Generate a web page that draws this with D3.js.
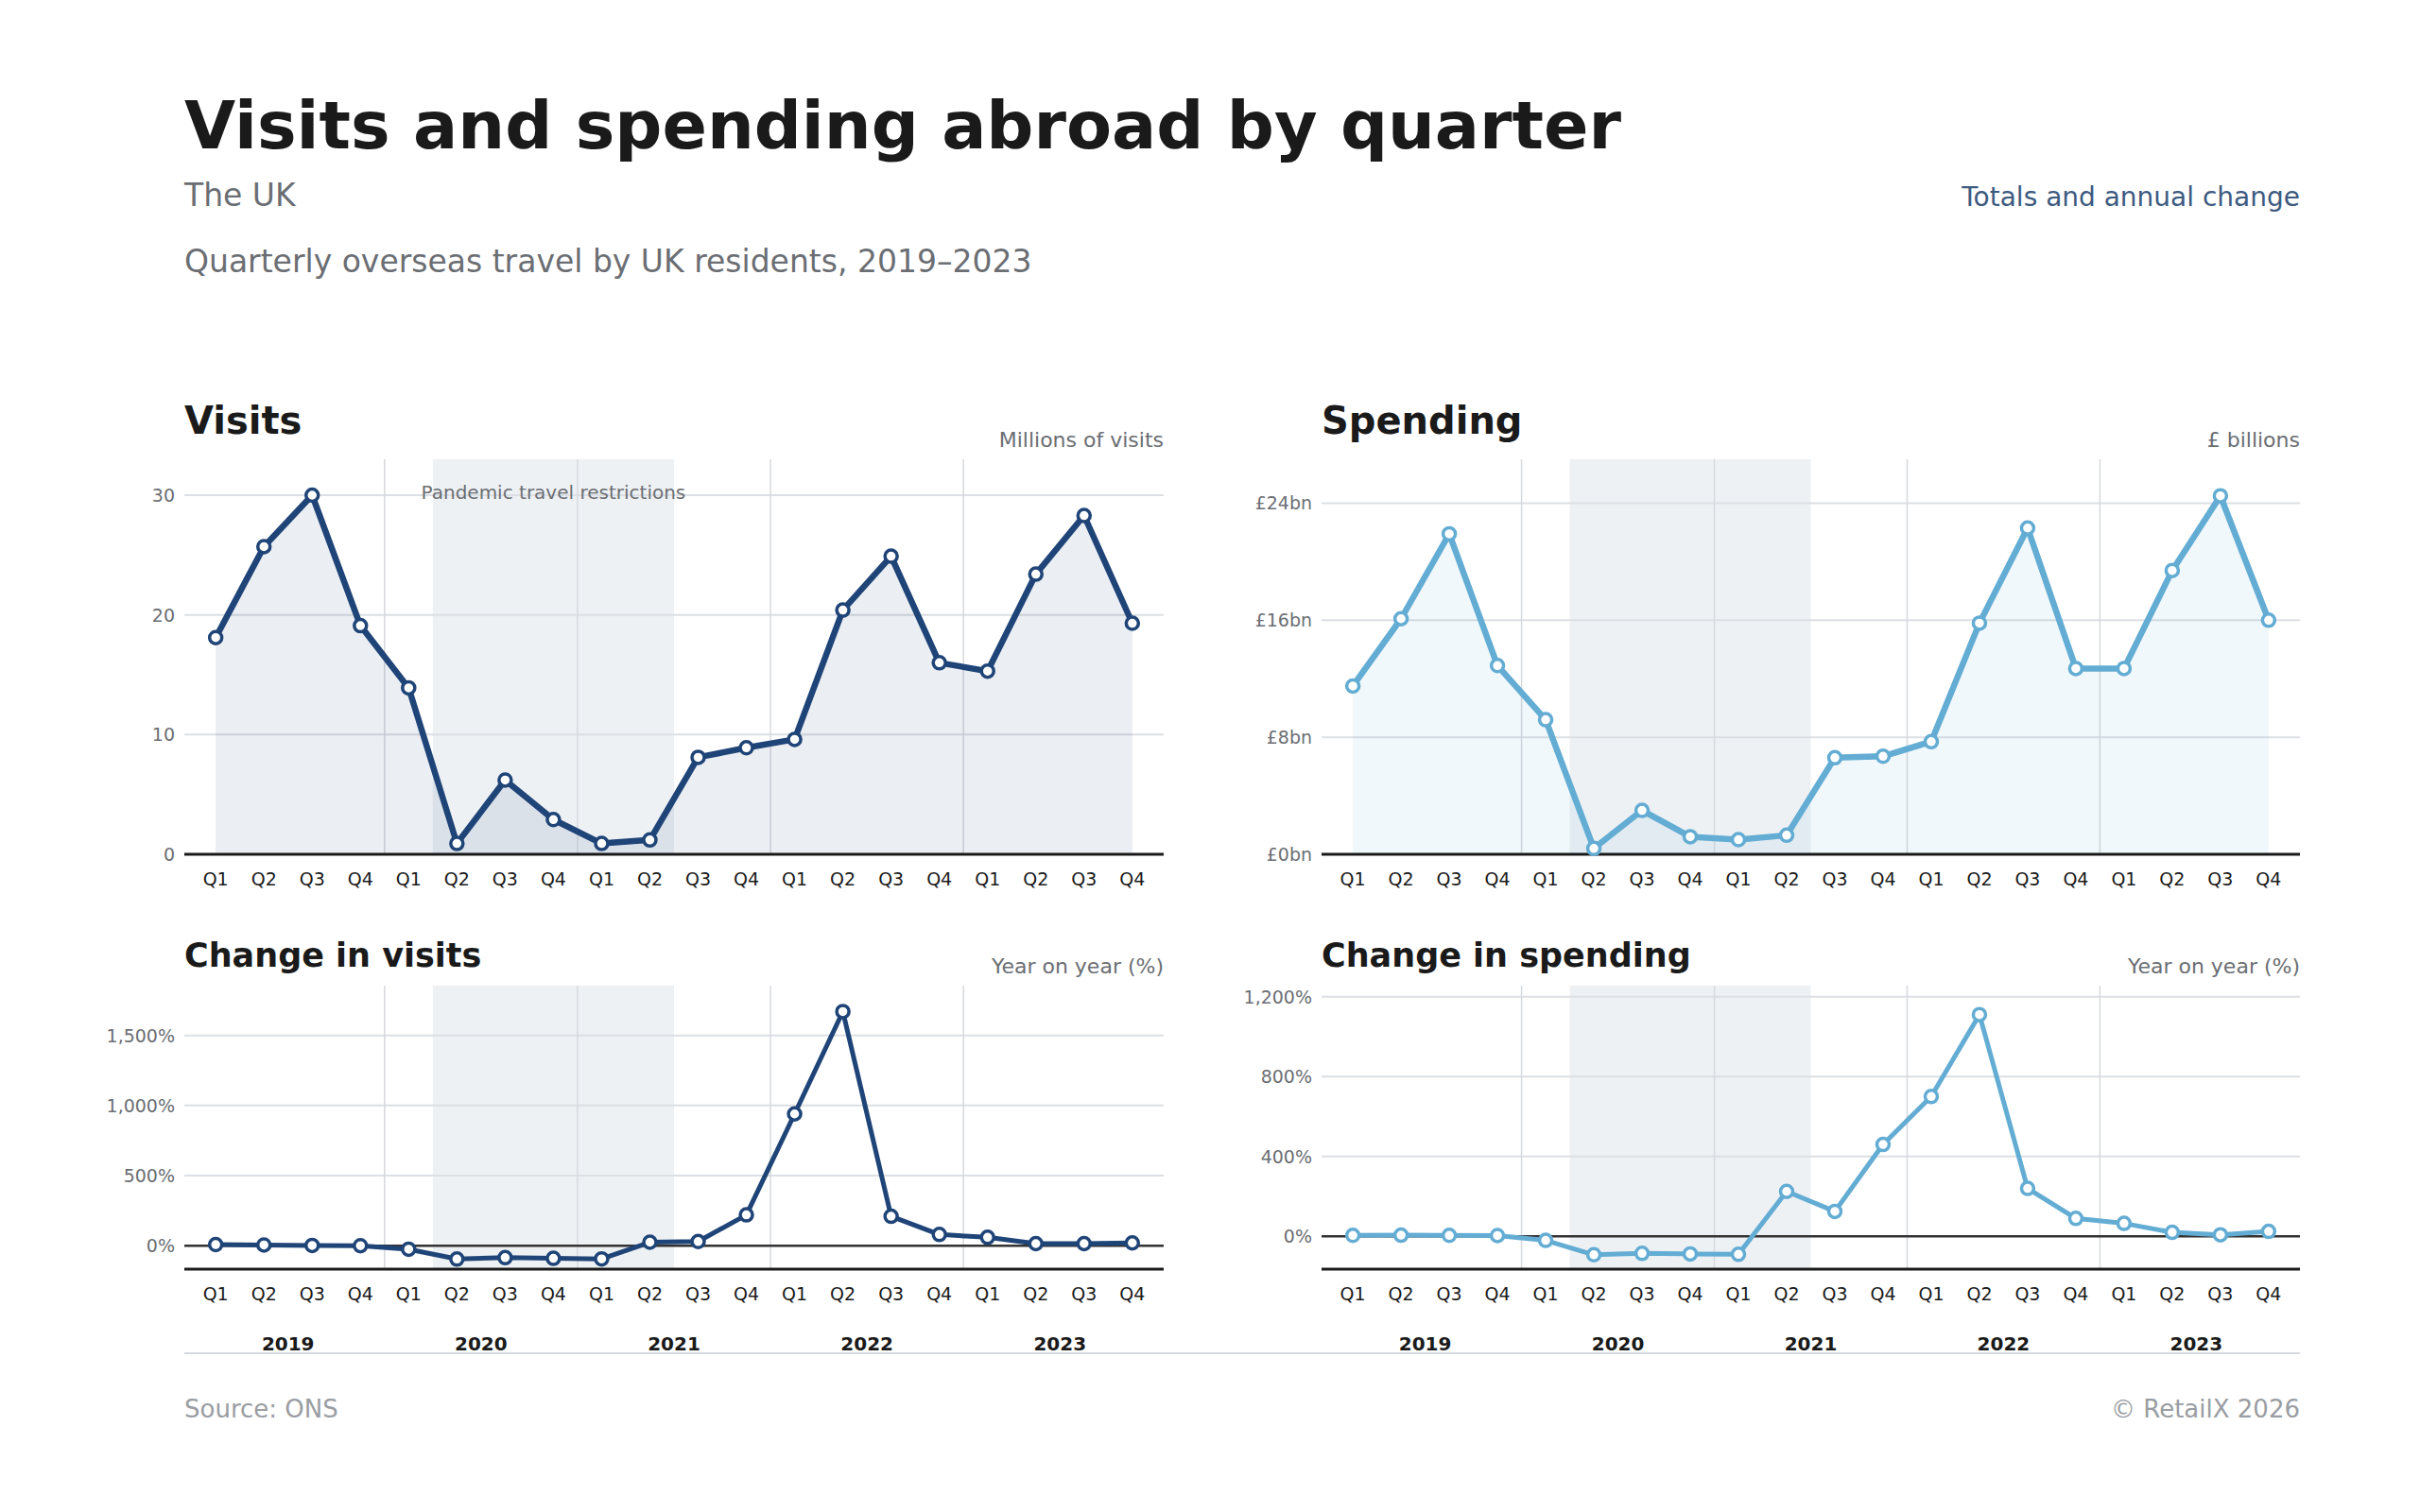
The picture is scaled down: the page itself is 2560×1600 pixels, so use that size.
<!DOCTYPE html>
<html><head><meta charset="utf-8">
<script src="https://cdn.jsdelivr.net/npm/d3@7"></script>
<style>body{margin:0;background:#fff;font-family:"DejaVu Sans",sans-serif}</style>
</head><body>
<script>
var years = ['2019', '2020', '2021', '2022', '2023'];
var quarters = ['Q1', 'Q2', 'Q3', 'Q4'];
var visits = [18.1, 25.7, 30, 19.1, 13.9, 0.9, 6.2, 2.9, 0.9, 1.2, 8.1, 8.9, 9.6, 20.4, 24.9, 16.0, 15.3, 23.4, 28.3, 19.3];
var spending = [11.5, 16.1, 21.9, 12.9, 9.2, 0.4, 3.0, 1.2, 1.0, 1.3, 6.6, 6.7, 7.7, 15.8, 22.3, 12.7, 12.7, 19.4, 24.5, 16.0];
var visitsChange = [8, 5, 2, 0, -25, -95, -85, -90, -94, 25, 30, 220, 940, 1670, 210, 80, 60, 15, 15, 20];
var spendingChange = [5, 6, 5, 4, -20, -92, -85, -88, -90, 225, 125, 460, 700, 1110, 240, 90, 65, 20, 8, 25];
var keys = [];
years.forEach(function (y) { quarters.forEach(function (q) { keys.push(y + q); }); });

var W = 2560, H = 1600;
var svg = d3.select('body').append('svg').attr('width', W).attr('height', H);

svg.append('text').attr('x', 195).attr('y', 157).attr('font-size', 70).attr('font-weight', 'bold')
    .attr('fill', '#1a1a1a').text('Visits and spending abroad by quarter');
svg.append('text').attr('x', 195).attr('y', 218).attr('font-size', 33).attr('fill', '#6b6e73').text('The UK');
svg.append('text').attr('x', 195).attr('y', 288).attr('font-size', 33).attr('fill', '#6b6e73')
    .text('Quarterly overseas travel by UK residents, 2019\u20132023');
svg.append('text').attr('x', 2433).attr('y', 218).attr('text-anchor', 'end').attr('font-size', 28)
    .attr('fill', '#3d5a80').text('Totals and annual change');

function panel(o) {
    var x = d3.scalePoint().domain(keys).range([o.x0, o.x1]).padding(0.65);
    var y = d3.scaleLinear().domain(o.domain).range([o.y1, o.y0]);
    var g = svg.append('g');
    var step = x.step();
    // pandemic shading Q2 2020 - Q2 2021
    g.append('rect').attr('x', x('2020Q2') - step / 2).attr('y', o.y0)
        .attr('width', x('2021Q2') - x('2020Q2') + step).attr('height', o.y1 - o.y0).attr('fill', '#eef1f4');
    // horizontal grid
    o.ticks.forEach(function (t) {
        g.append('line').attr('x1', o.x0).attr('x2', o.x1).attr('y1', y(t)).attr('y2', y(t))
            .attr('stroke', '#dcdfe3').attr('stroke-width', 2);
        g.append('text').attr('x', o.x0 - 10).attr('y', y(t) + 7).attr('text-anchor', 'end')
            .attr('font-size', 19).attr('fill', '#6b6e73').text(o.fmt(t));
    });
    // year boundaries
    years.slice(1).forEach(function (yr) {
        var xv = x(yr + 'Q1') - step / 2;
        g.append('line').attr('x1', xv).attr('x2', xv).attr('y1', o.y0).attr('y2', o.y1)
            .attr('stroke', '#d6d9dd').attr('stroke-width', 1.5);
    });
    if (o.note) {
        g.append('text').attr('x', (x('2020Q2') + x('2021Q2')) / 2).attr('y', o.y0 + 42)
            .attr('text-anchor', 'middle').attr('font-size', 20).attr('fill', '#6b6e73').text(o.note);
    }
    if (o.area) {
        g.append('path').datum(o.data)
            .attr('d', d3.area().x(function (d, i) { return x(keys[i]); }).y0(y(0)).y1(function (d) { return y(d); }))
            .attr('fill', o.color).attr('fill-opacity', 0.09);
    }
    if (o.zero) {
        g.append('line').attr('x1', o.x0).attr('x2', o.x1).attr('y1', y(0)).attr('y2', y(0))
            .attr('stroke', '#333').attr('stroke-width', 2.5);
    }
    g.append('line').attr('x1', o.x0).attr('x2', o.x1).attr('y1', o.y1).attr('y2', o.y1)
        .attr('stroke', '#1a1a1a').attr('stroke-width', 3);
    g.append('path').datum(o.data)
        .attr('d', d3.line().x(function (d, i) { return x(keys[i]); }).y(function (d) { return y(d); }))
        .attr('fill', 'none').attr('stroke', o.color).attr('stroke-width', o.lw).attr('stroke-linejoin', 'round');
    g.selectAll('circle.pt').data(o.data).enter().append('circle')
        .attr('cx', function (d, i) { return x(keys[i]); }).attr('cy', function (d) { return y(d); })
        .attr('r', 6.5).attr('fill', '#fff').attr('stroke', o.color).attr('stroke-width', 3.5);
    keys.forEach(function (k) {
        g.append('text').attr('x', x(k)).attr('y', o.y1 + 33).attr('text-anchor', 'middle')
            .attr('font-size', 19).attr('fill', '#1a1a1a').text(k.slice(4));
    });
    if (o.yearLabels) {
        years.forEach(function (yr) {
            g.append('text').attr('x', (x(yr + 'Q2') + x(yr + 'Q3')) / 2).attr('y', o.y1 + 86)
                .attr('text-anchor', 'middle').attr('font-size', 20).attr('font-weight', 'bold')
                .attr('fill', '#1a1a1a').text(yr);
        });
    }
    svg.append('text').attr('x', o.x0).attr('y', o.y0 - (o.big ? 27 : 20)).attr('font-size', o.big ? 40 : 35)
        .attr('font-weight', 'bold').attr('fill', '#1a1a1a').text(o.title);
    svg.append('text').attr('x', o.x1).attr('y', o.y0 - 13).attr('text-anchor', 'end')
        .attr('font-size', 22).attr('fill', '#6b6e73').text(o.unit);
}

var fmtPct = function (t) { return d3.format(',')(t) + '%'; };
var dark = '#1f4477', light = '#63acd3';

panel({ x0: 195, x1: 1231, y0: 486, y1: 904, domain: [0, 33], ticks: [0, 10, 20, 30], fmt: String,
    data: visits, color: dark, lw: 6.5, area: true, title: 'Visits', unit: 'Millions of visits',
    note: 'Pandemic travel restrictions', big: true });
panel({ x0: 1398, x1: 2433, y0: 486, y1: 904, domain: [0, 27], ticks: [0, 8, 16, 24],
    fmt: function (t) { return '\u00a3' + t + 'bn'; },
    data: spending, color: light, lw: 6.5, area: true, title: 'Spending', unit: '\u00a3 billions', big: true });
panel({ x0: 195, x1: 1231, y0: 1043, y1: 1343, domain: [-167, 1855], ticks: [0, 500, 1000, 1500], fmt: fmtPct,
    data: visitsChange, color: dark, lw: 5, zero: true, title: 'Change in visits', unit: 'Year on year (%)', yearLabels: true });
panel({ x0: 1398, x1: 2433, y0: 1043, y1: 1343, domain: [-164, 1255], ticks: [0, 400, 800, 1200], fmt: fmtPct,
    data: spendingChange, color: light, lw: 5, zero: true, title: 'Change in spending', unit: 'Year on year (%)', yearLabels: true });

svg.append('line').attr('x1', 195).attr('x2', 2433).attr('y1', 1432).attr('y2', 1432)
    .attr('stroke', '#d6d9dd').attr('stroke-width', 2);
svg.append('text').attr('x', 195).attr('y', 1500).attr('font-size', 26).attr('fill', '#9a9da2').text('Source: ONS');
svg.append('text').attr('x', 2433).attr('y', 1500).attr('text-anchor', 'end').attr('font-size', 26)
    .attr('fill', '#9a9da2').text('\u00a9 RetailX 2026');
</script>
</body></html>
